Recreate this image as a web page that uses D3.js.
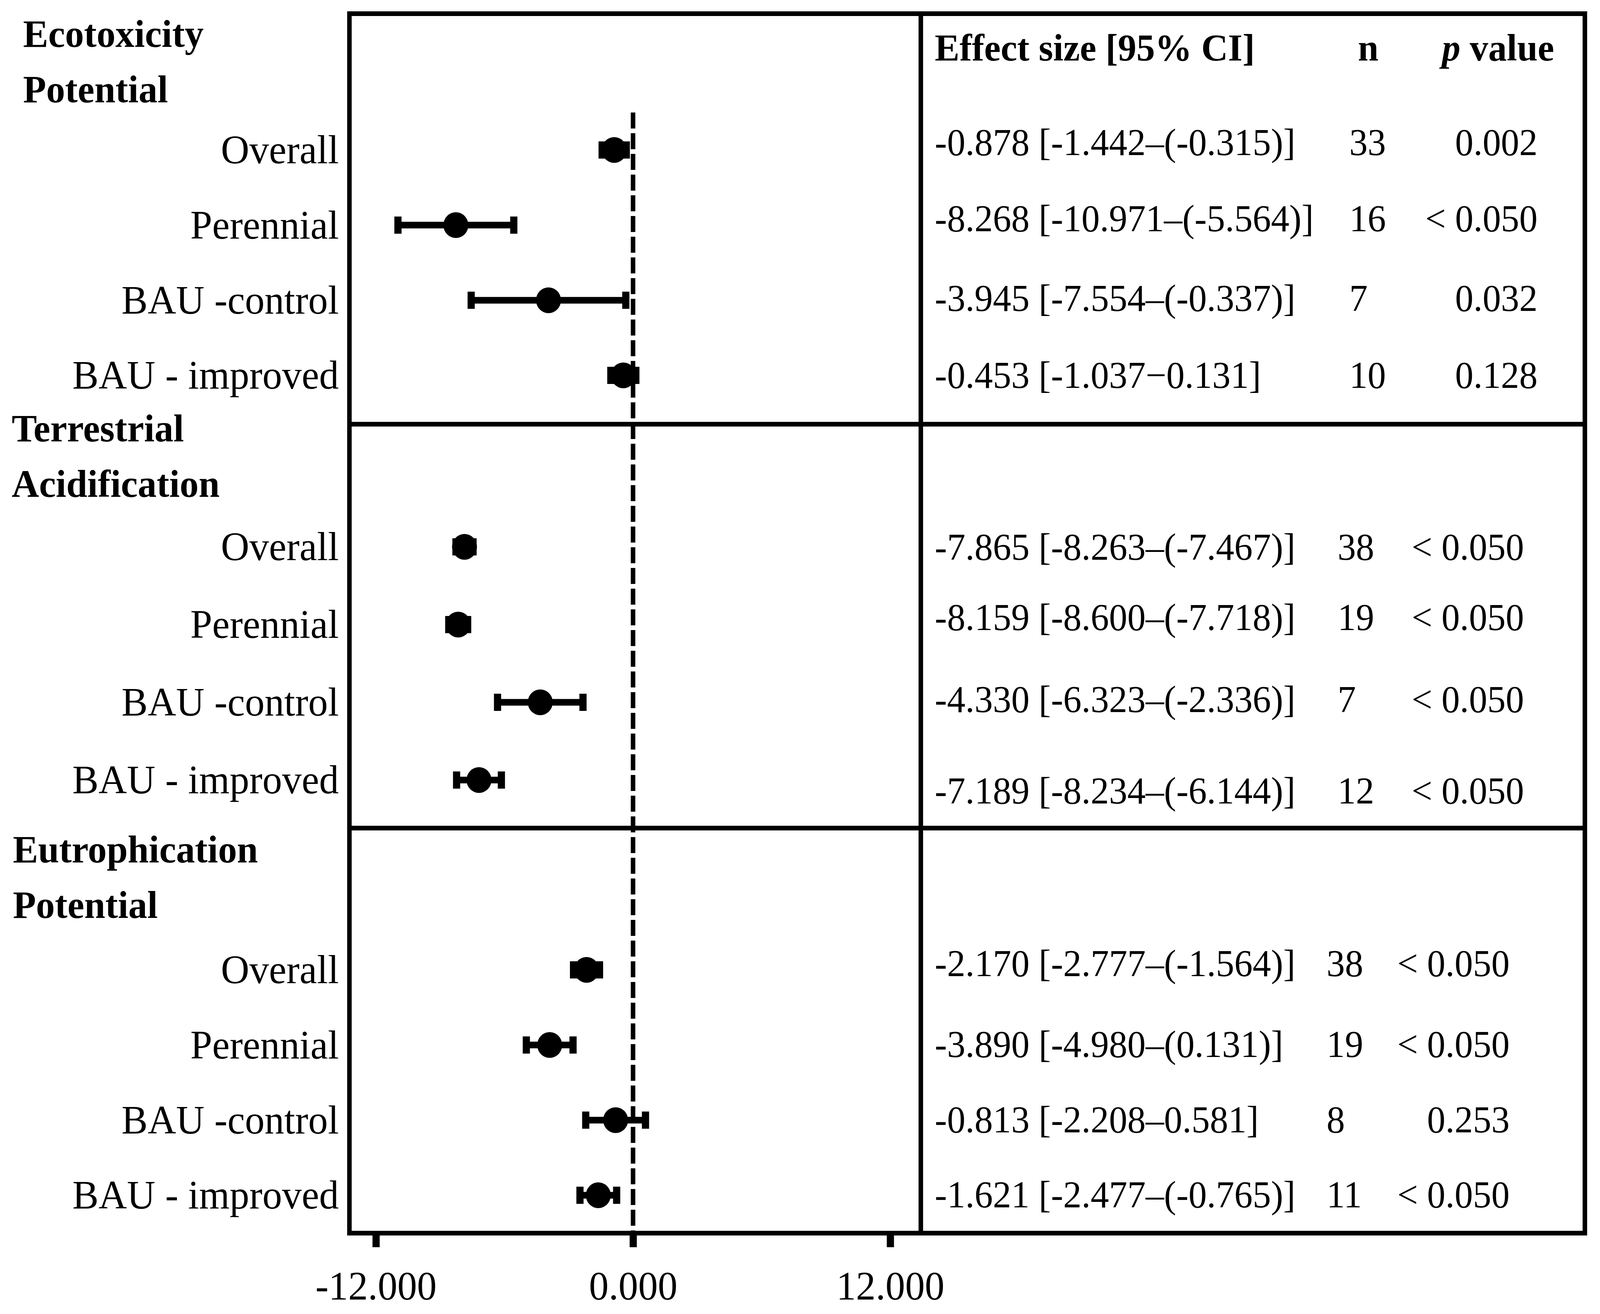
<!DOCTYPE html>
<html>
<head>
<meta charset="UTF-8">
<title>Effect sizes (forest plot)</title>
<script src="https://d3js.org/d3.v7.min.js"></script>
<style>
html, body { margin: 0; padding: 0; background: #fff; overflow: hidden; }
#plot svg { display: block; }
text { font-family: "Liberation Serif", "Times New Roman", serif; fill: #000; }
</style>
</head>
<body>
<div id="plot"></div>
<script>

// data

var groupTitles = [["Ecotoxicity", "Potential"], ["Terrestrial", "Acidification"], ["Eutrophication", "Potential"]]
var subgroups   = ["Overall", "Perennial", "BAU -control", "BAU - improved"]

var effect = [-0.878, -8.268, -3.945, -0.453,  -7.865, -8.159, -4.330, -7.189,  -2.170, -3.890, -0.813, -1.621]
var ciLow  = [-1.442, -10.971, -7.554, -1.037, -8.263, -8.600, -6.323, -8.234,  -2.777, -4.980, -2.208, -2.477]
// eutrophication / perennial: the table says (0.131) but the bar is drawn to about -2.8
var ciHigh = [-0.315, -5.564, -0.337, 0.131,   -7.467, -7.718, -2.336, -6.144,  -1.564, -2.800, 0.581, -0.765]

var effectText = [
	"-0.878 [-1.442\u2013(-0.315)]", "-8.268 [-10.971\u2013(-5.564)]", "-3.945 [-7.554\u2013(-0.337)]", "-0.453 [-1.037\u22120.131]",
	"-7.865 [-8.263\u2013(-7.467)]", "-8.159 [-8.600\u2013(-7.718)]", "-4.330 [-6.323\u2013(-2.336)]", "-7.189 [-8.234\u2013(-6.144)]",
	"-2.170 [-2.777\u2013(-1.564)]", "-3.890 [-4.980\u2013(0.131)]", "-0.813 [-2.208\u20130.581]", "-1.621 [-2.477\u2013(-0.765)]"]
var nCount = [33, 16, 7, 10,  38, 19, 7, 12,  38, 19, 8, 11]
var pText  = ["0.002", "< 0.050", "0.032", "0.128",  "< 0.050", "< 0.050", "< 0.050", "< 0.050",  "< 0.050", "< 0.050", "0.253", "< 0.050"]

var xTicks = [-12, 0, 12]

// layout

var W = 4231, H = 3364
var boxLeft = 924, boxRight = 4191, boxTop = 35, boxBottom = 3157
var divider = 2435
var separators = [1086, 2120]
var rowRange = [[384, 961], [1400, 1997], [2483, 3060]]
var titleX = [61, 31, 34], titleY = [120, 1130, 2208], titleGap = 142
var labelRight = 896
var tableX = 2472, nX = [3568, 3537, 3508], pRight = [4066, 4030, 3992]
var tableNudge = [-19, -16, -5, 0,  1, -18, -7, 28,  -16, -1, -1, -1]

var labelSize = 104, tableSize = 97, titleSize = 100

var x = d3.scaleLinear().domain([-12, 12]).range([994, 2354])

// drawn in a fixed 4231x3364 coordinate space, stretched to the window
var svg = d3.select("#plot").append("svg")
	.attr("viewBox", "0 0 " + W + " " + H)
	.attr("preserveAspectRatio", "none")
	.style("width", "100vw")
	.style("height", "100vh")

svg.append("rect").attr("width", W).attr("height", H).attr("fill", "#fff")

// rows: one record per (group, subgroup)
var rows = []
groupTitles.forEach(function (t, g) {
	var y = d3.scalePoint().domain(subgroups).range(rowRange[g])
	subgroups.forEach(function (s, j) {
		var i = g * 4 + j
		rows.push({ g: g, label: s, y: y(s), est: effect[i], lo: ciLow[i], hi: ciHigh[i],
			text: effectText[i], n: nCount[i], p: pText[i], nudge: tableNudge[i] })
	})
})

// zero line
svg.append("line")
	.attr("x1", x(0)).attr("x2", x(0))
	.attr("y1", 288).attr("y2", boxBottom)
	.attr("stroke", "#000")
	.attr("stroke-width", 12)
	.attr("stroke-dasharray", "41,12")

// error bars and points
var marks = svg.selectAll(".row").data(rows).enter()
	.append("g").attr("class", "row")

marks.append("line")
	.attr("x1", function (d) { return x(d.lo) })
	.attr("x2", function (d) { return x(d.hi) })
	.attr("y1", function (d) { return d.y })
	.attr("y2", function (d) { return d.y })
	.attr("stroke", "#000").attr("stroke-width", 17)

marks.selectAll(".cap")
	.data(function (d) { return [d.lo, d.hi].map(function (v) { return { v: v, y: d.y } }) })
	.enter().append("rect")
	.attr("class", "cap")
	.attr("x", function (c) { return x(c.v) - 9.5 })
	.attr("y", function (c) { return c.y - 22 })
	.attr("width", 19).attr("height", 44)
	.attr("fill", "#000")

marks.append("circle")
	.attr("cx", function (d) { return x(d.est) })
	.attr("cy", function (d) { return d.y })
	.attr("r", 33)
	.attr("fill", "#000")

// row labels
svg.selectAll(".lab").data(rows).enter()
	.append("text").attr("class", "lab")
	.attr("x", labelRight)
	.attr("y", function (d) { return d.y + 0.33 * labelSize })
	.attr("text-anchor", "end")
	.attr("font-size", labelSize)
	.text(function (d) { return d.label })

// group titles
groupTitles.forEach(function (t, g) {
	t.forEach(function (line, k) {
		svg.append("text")
			.attr("x", titleX[g])
			.attr("y", titleY[g] + k * titleGap)
			.attr("font-size", titleSize)
			.attr("font-weight", "bold")
			.text(line)
	})
})

// table columns
svg.selectAll(".eff").data(rows).enter()
	.append("text").attr("class", "eff")
	.attr("x", tableX)
	.attr("y", function (d) { return d.y + d.nudge + 0.33 * tableSize })
	.attr("font-size", tableSize)
	.text(function (d) { return d.text })

svg.selectAll(".n").data(rows).enter()
	.append("text").attr("class", "n")
	.attr("x", function (d) { return nX[d.g] })
	.attr("y", function (d) { return d.y + d.nudge + 0.33 * tableSize })
	.attr("font-size", tableSize)
	.text(function (d) { return d.n })

svg.selectAll(".p").data(rows).enter()
	.append("text").attr("class", "p")
	.attr("x", function (d) { return pRight[d.g] })
	.attr("y", function (d) { return d.y + d.nudge + 0.33 * tableSize })
	.attr("text-anchor", "end")
	.attr("font-size", tableSize)
	.text(function (d) { return d.p })

// table header
svg.append("text")
	.attr("x", tableX).attr("y", 155)
	.attr("font-size", 98).attr("font-weight", "bold")
	.text("Effect size [95% CI]")

svg.append("text")
	.attr("x", 3618).attr("y", 155)
	.attr("text-anchor", "middle")
	.attr("font-size", 98).attr("font-weight", "bold")
	.text("n")

var ph = svg.append("text")
	.attr("x", 3813).attr("y", 155)
	.attr("font-size", 98).attr("font-weight", "bold")
ph.append("tspan").attr("font-style", "italic").text("p")
ph.append("tspan").text(" value")

// frame
var frame = svg.append("g")
	.attr("stroke", "#000").attr("stroke-width", 12).attr("fill", "none")

frame.append("rect")
	.attr("x", boxLeft).attr("y", boxTop)
	.attr("width", boxRight - boxLeft)
	.attr("height", boxBottom - boxTop)

frame.append("line")
	.attr("x1", divider).attr("x2", divider)
	.attr("y1", boxTop).attr("y2", boxBottom)

frame.selectAll(".sep").data(separators).enter()
	.append("line").attr("class", "sep")
	.attr("x1", boxLeft).attr("x2", boxRight)
	.attr("y1", function (d) { return d })
	.attr("y2", function (d) { return d })

// x axis
var axis = svg.append("g")
	.attr("transform", "translate(0," + boxBottom + ")")
	.call(d3.axisBottom(x)
		.tickValues(xTicks)
		.tickSize(36)
		.tickPadding(60)
		.tickFormat(function (d) { return d.toFixed(3) }))

axis.select(".domain").remove()
axis.selectAll(".tick line").attr("stroke", "#000").attr("stroke-width", 19)
axis.selectAll(".tick text")
	.attr("font-size", labelSize)
	.attr("font-family", "Liberation Serif, serif")
	.attr("fill", "#000")

</script>
</body>
</html>
